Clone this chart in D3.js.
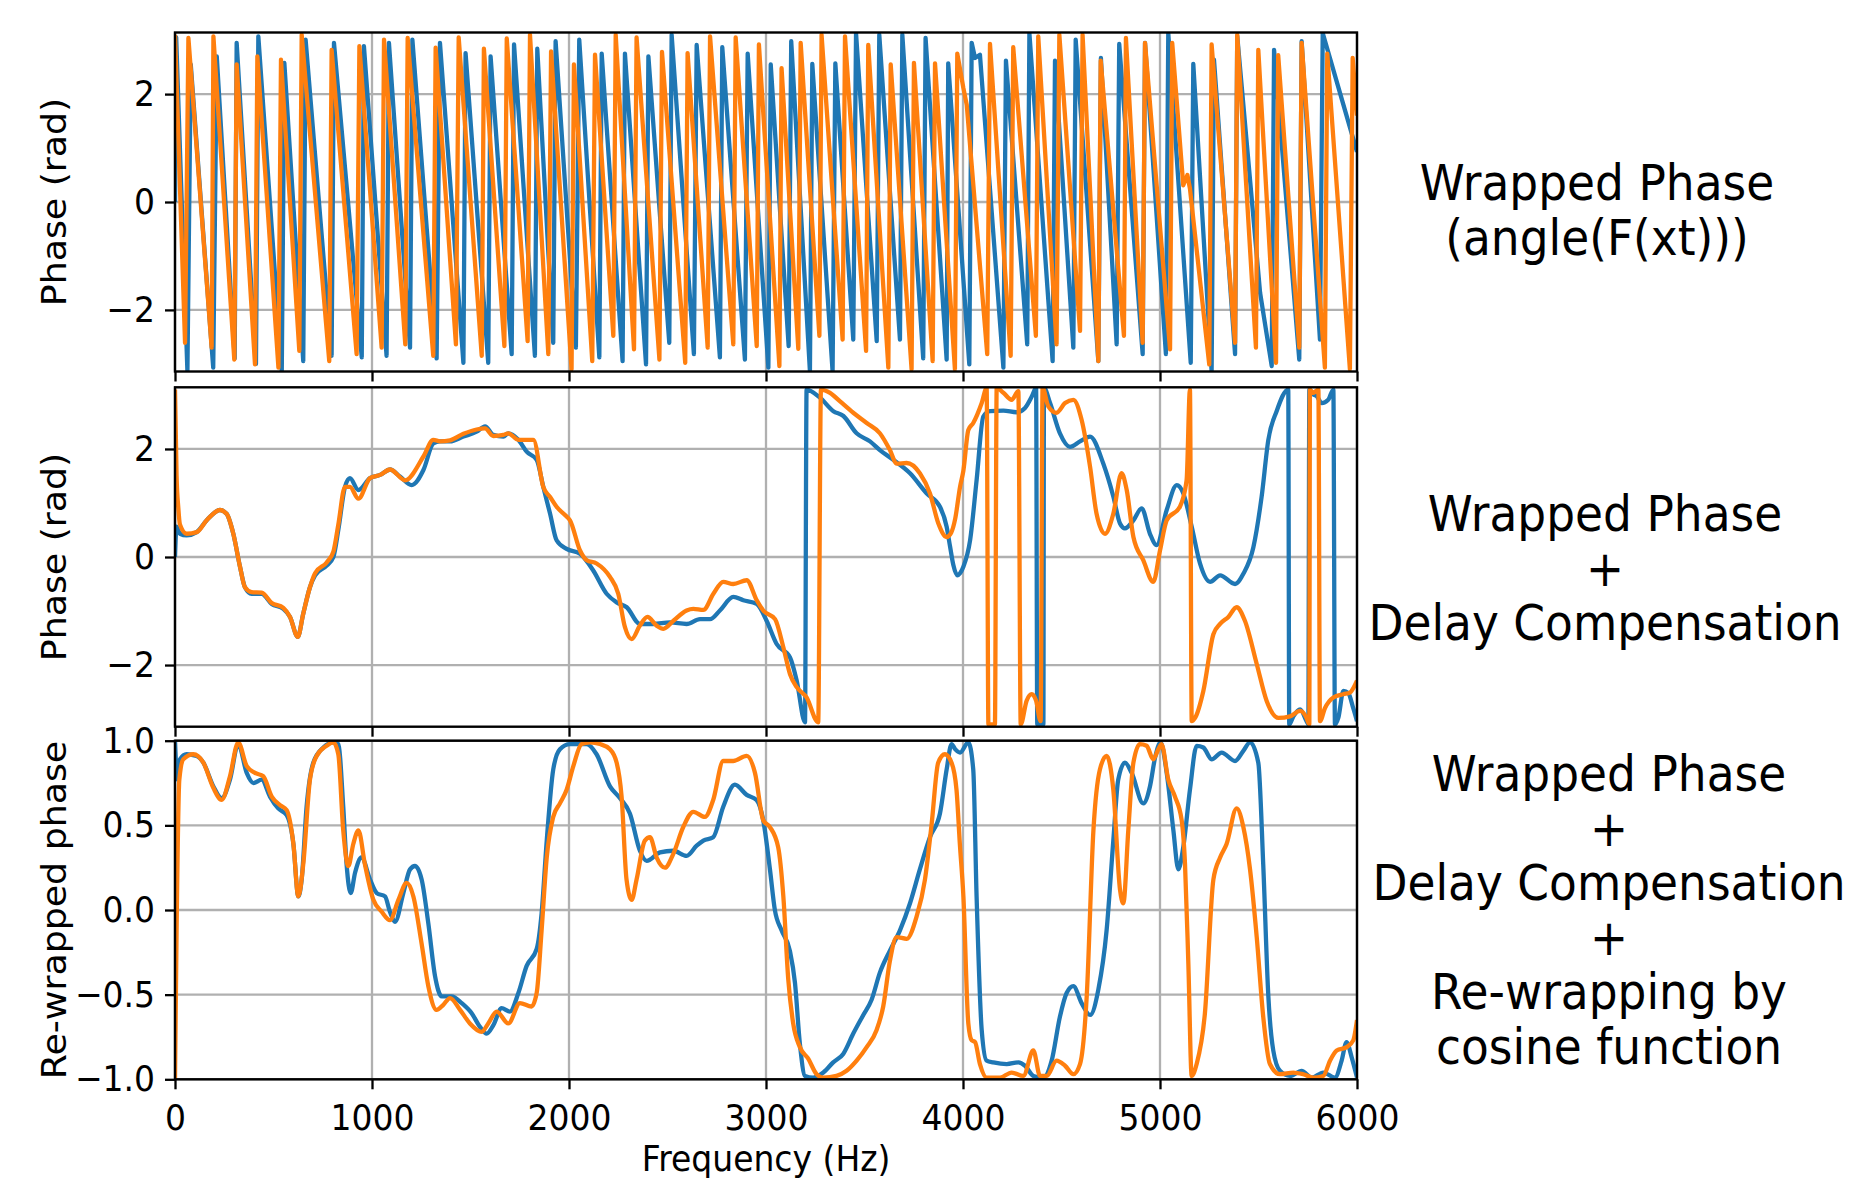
<!DOCTYPE html>
<html>
<head>
<meta charset="utf-8">
<script src="https://cdn.jsdelivr.net/npm/d3@7"></script>
<style>
  body { margin: 0; background: #fff; }
  svg { display: block; }
  text { font-family: "DejaVu Sans", sans-serif; fill: #000; }
</style>
</head>
<body>
<svg id="chart" width="1851" height="1179"></svg>
<script>
// ---------------- DATA ----------------
const xTicks = [0, 1000, 2000, 3000, 4000, 5000, 6000];
const phaseTicks = [-2, 0, 2];
const phaseTickLabels = ["\u22122", "0", "2"];
const cosTicks = [-1, -0.5, 0, 0.5, 1];
const cosTickLabels = ["\u22121.0", "\u22120.5", "0.0", "0.5", "1.0"];
const xLabel = "Frequency (Hz)";
const yLabels = ["Phase (rad)", "Phase (rad)", "Re-wrapped phase"];
const panelTitles = [
  ["Wrapped Phase", "(angle(F(xt)))"],
  ["Wrapped Phase", "+", "Delay Compensation"],
  ["Wrapped Phase", "+", "Delay Compensation", "+", "Re-wrapping by", "cosine function"]
];

// Panel 1: wrapped phase [frequency Hz, phase rad]
const wrappedBlue = [
 [0,0.0],[6,3.05],[63,-3.14],[80,2.55],[194,-3.07],[212,2.70],[303,-2.90],[313,2.95],
 [411,-3.00],[423,3.07],[542,-3.14],[555,2.58],[651,-2.95],[663,3.01],[795,-2.85],[807,2.95],
 [948,-2.88],[959,2.89],[1074,-2.85],[1086,2.95],[1193,-2.70],[1205,3.01],[1328,-2.90],[1345,2.95],
 [1464,-2.98],[1475,2.76],[1590,-2.98],[1602,2.70],[1709,-2.82],[1721,2.92],[1827,-2.85],[1839,2.84],
 [1920,-2.61],[1932,2.98],[2035,-2.70],[2052,3.01],[2154,-2.88],[2166,2.75],[2272,-2.95],[2284,2.75],
 [2391,-3.01],[2403,2.70],[2509,-2.61],[2521,3.10],[2634,-2.82],[2648,2.91],[2766,-2.88],[2778,2.87],
 [2893,-2.92],[2907,2.75],[3012,-3.07],[3024,2.55],[3115,-2.67],[3128,2.98],[3223,-3.14],[3235,2.56],
 [3338,-3.14],[3352,2.57],[3443,-2.55],[3457,3.13],[3562,-2.58],[3575,3.10],[3680,-2.55],[3692,3.10],
 [3798,-2.90],[3810,3.04],[3917,-2.92],[3925,2.57],[4032,-3.01],[4044,2.95],[4061,2.67],[4086,2.73],
 [4205,-3.07],[4218,2.62],[4326,-2.64],[4337,3.13],[4455,-2.95],[4467,2.62],[4560,-2.70],[4572,3.01],
 [4687,-2.95],[4700,2.67],[4780,-2.64],[4793,2.93],[4912,-2.82],[4924,2.95],[5030,-2.82],[5042,3.13],
 [5156,-2.98],[5169,2.56],[5262,-3.14],[5274,2.64],[5381,-2.82],[5392,3.08],[5508,-1.68],
 [5567,-3.04],[5579,2.82],[5707,-2.92],[5719,2.98],[5812,-2.55],[5826,3.13],[6000,0.93]
];
const wrappedOrange = [
 [0,3.10],[51,-2.61],[68,3.04],[186,-2.70],[195,3.07],[301,-2.92],[313,2.55],[406,-3.01],[418,2.70],
 [525,-3.07],[538,2.64],[631,-2.76],[643,3.10],[783,-2.95],[795,2.82],[922,-2.82],[936,2.89],
 [1049,-2.70],[1061,3.01],[1169,-2.64],[1181,3.04],[1311,-2.85],[1323,2.86],[1426,-2.64],[1440,3.05],
 [1557,-2.85],[1568,2.84],[1672,-2.67],[1684,3.03],[1790,-2.58],[1802,3.10],[1895,-2.82],[1909,2.79],
 [2013,-3.10],[2025,2.55],[2118,-2.95],[2132,2.73],[2225,-2.48],[2237,3.10],[2330,-2.73],[2343,3.05],
 [2459,-2.92],[2472,2.78],[2590,-2.98],[2602,2.76],[2704,-2.70],[2716,3.07],[2834,-2.64],[2846,3.05],
 [2953,-2.67],[2964,2.92],[3068,-3.04],[3079,2.48],[3164,-2.72],[3176,2.95],[3271,-2.48],[3282,3.10],
 [3389,-2.55],[3401,3.07],[3508,-2.76],[3519,2.91],[3621,-3.07],[3633,2.55],[3739,-3.10],[3751,2.58],
 [3846,-2.95],[3858,2.57],[3959,-3.10],[3971,2.75],[4002,2.11],[4019,1.80],[4123,-2.82],[4137,2.93],
 [4242,-2.85],[4255,2.87],[4370,-2.48],[4382,3.07],[4475,-2.64],[4489,3.10],[4594,-2.39],[4607,3.10],
 [4687,-2.95],[4699,2.62],[4817,-2.48],[4827,3.04],[4912,-2.61],[4924,2.95],[5051,-2.73],[5062,2.95],
 [5118,0.31],[5139,0.50],[5152,0.25],[5250,-3.01],[5262,2.92],[5381,-2.61],[5392,3.10],[5487,-2.70],
 [5499,2.82],[5589,-2.98],[5600,2.72],[5707,-2.70],[5719,2.95],[5837,-3.07],[5849,2.75],[5964,-3.10],
 [5978,2.67],[6000,1.60]
];

// Panel 2: wrapped phase + delay compensation
const compBlue = [
 [0,0.0],[8,0.56],[25,0.43],[59,0.40],[110,0.46],[161,0.68],[228,0.87],[262,0.80],[296,0.43],[330,-0.18],
 [355,-0.56],[389,-0.68],[440,-0.68],[491,-0.87],[550,-0.96],[584,-1.11],[623,-1.48],[651,-1.05],[685,-0.56],
 [711,-0.34],[770,-0.16],[804,0.0],[829,0.5],[863,1.3],[888,1.46],[931,1.24],[990,1.46],[1041,1.52],
 [1092,1.62],[1142,1.49],[1201,1.33],[1261,1.61],[1311,2.1],[1345,2.14],[1396,2.14],[1464,2.23],[1531,2.32],
 [1574,2.42],[1616,2.26],[1667,2.23],[1692,2.29],[1743,2.17],[1785,1.95],[1836,1.80],[1870,1.29],[1904,0.80],
 [1937,0.31],[1988,0.15],[2056,0.06],[2123,-0.25],[2191,-0.68],[2242,-0.84],[2293,-0.93],[2360,-1.24],
 [2428,-1.24],[2512,-1.21],[2597,-1.24],[2665,-1.15],[2716,-1.15],[2766,-0.99],[2834,-0.74],[2885,-0.80],
 [2953,-0.87],[3003,-1.18],[3054,-1.61],[3122,-1.86],[3156,-2.29],[3198,-3.06],[3206,3.10],[3274,2.95],
 [3342,2.70],[3393,2.61],[3460,2.29],[3528,2.14],[3578,1.98],[3646,1.80],[3731,1.55],[3815,1.18],[3883,0.93],
 [3917,0.56],[3934,0.20],[3951,-0.15],[3971,-0.34],[3985,-0.30],[4002,-0.18],[4036,0.31],[4069,1.42],
 [4103,2.60],[4137,2.70],[4205,2.71],[4272,2.68],[4315,2.76],[4349,2.97],[4371,3.13],[4377,-3.10],
 [4408,-3.10],[4411,3.13],[4442,2.85],[4492,2.29],[4543,2.04],[4594,2.14],[4645,2.23],[4712,1.73],
 [4763,1.12],[4797,0.62],[4822,0.53],[4865,0.68],[4907,0.90],[4949,0.43],[4983,0.22],[5034,0.87],
 [5085,1.33],[5118,1.18],[5161,0.56],[5203,-0.12],[5254,-0.46],[5305,-0.34],[5381,-0.50],[5423,-0.31],
 [5474,0.18],[5516,1.12],[5550,2.17],[5592,2.70],[5651,3.10],[5656,-3.10],[5677,-2.95],[5711,-2.82],
 [5744,-3.04],[5753,-3.10],[5758,3.10],[5778,3.01],[5795,2.98],[5821,2.85],[5854,2.91],[5880,3.10],
 [5888,-3.10],[5905,-2.98],[5931,-2.48],[5956,-2.52],[5981,-2.80],[6000,-3.04]
];
const compOrange = [
 [0,3.10],[8,1.5],[17,0.9],[25,0.6],[59,0.43],[110,0.46],[161,0.68],[228,0.87],[262,0.80],[296,0.43],
 [330,-0.18],[355,-0.56],[389,-0.65],[440,-0.66],[491,-0.85],[550,-0.94],[584,-1.11],[623,-1.48],[651,-1.05],
 [685,-0.56],[711,-0.30],[770,-0.10],[804,0.1],[829,0.6],[863,1.3],[888,1.30],[931,1.08],[990,1.46],
 [1041,1.52],[1092,1.62],[1168,1.42],[1261,1.86],[1311,2.17],[1345,2.14],[1396,2.16],[1464,2.28],
 [1531,2.36],[1574,2.38],[1616,2.24],[1667,2.26],[1692,2.29],[1743,2.17],[1785,2.17],[1819,2.17],
 [1870,1.29],[1904,1.11],[1937,0.93],[1988,0.75],[2005,0.68],[2056,0.12],[2090,-0.06],[2140,-0.12],
 [2208,-0.37],[2250,-0.68],[2284,-1.30],[2318,-1.52],[2360,-1.27],[2398,-1.11],[2445,-1.27],[2479,-1.33],
 [2530,-1.18],[2597,-0.99],[2631,-0.96],[2682,-0.98],[2733,-0.68],[2783,-0.46],[2834,-0.50],[2902,-0.43],
 [2953,-0.80],[2986,-0.99],[3046,-1.15],[3088,-1.67],[3122,-2.17],[3156,-2.41],[3206,-2.60],[3265,-3.06],
 [3279,3.10],[3325,3.04],[3376,2.88],[3443,2.67],[3511,2.48],[3578,2.29],[3629,1.98],[3663,1.73],
 [3714,1.74],[3781,1.55],[3832,1.18],[3875,0.62],[3917,0.37],[3940,0.45],[3960,0.70],[3985,1.30],
 [4002,1.60],[4027,2.35],[4052,2.48],[4095,2.85],[4120,3.13],[4129,-3.10],[4162,-3.10],[4171,3.13],
 [4205,3.04],[4247,2.91],[4281,3.07],[4293,-3.10],[4323,-2.66],[4349,-2.54],[4371,-2.66],[4394,-3.04],
 [4404,3.13],[4433,2.79],[4475,2.67],[4518,2.85],[4560,2.91],[4602,2.54],[4645,1.67],[4678,0.80],
 [4721,0.43],[4763,0.80],[4805,1.55],[4831,1.24],[4865,0.37],[4915,-0.06],[4966,-0.46],[5000,0.12],
 [5034,0.68],[5101,0.93],[5135,1.42],[5152,3.10],[5161,-3.04],[5178,-2.98],[5220,-2.48],[5271,-1.43],
 [5305,-1.24],[5347,-1.11],[5389,-0.93],[5431,-1.18],[5491,-1.98],[5541,-2.66],[5601,-2.98],[5660,-2.95],
 [5711,-2.85],[5744,-2.98],[5758,-3.10],[5761,3.10],[5778,3.04],[5804,3.10],[5812,-3.04],[5837,-2.80],
 [5880,-2.60],[5931,-2.54],[5964,-2.51],[6000,-2.29]
];

// Panel 3: re-wrapped phase (cosine)
const cosBlue = [
 [0,1.0],[12,0.77],[25,0.89],[59,0.92],[110,0.91],[144,0.87],[195,0.73],[237,0.66],[279,0.77],[321,0.98],
 [364,0.81],[398,0.75],[440,0.77],[482,0.67],[524,0.60],[567,0.56],[601,0.39],[626,0.08],[643,0.18],
 [668,0.61],[702,0.87],[753,0.96],[804,0.99],[829,0.98],[854,0.61],[871,0.27],[892,0.10],[914,0.22],
 [947,0.31],[990,0.18],[1024,0.10],[1066,0.08],[1091,-0.01],[1117,-0.07],[1159,0.10],[1193,0.24],
 [1218,0.26],[1252,0.18],[1286,-0.08],[1320,-0.39],[1354,-0.51],[1404,-0.51],[1455,-0.55],[1506,-0.61],
 [1548,-0.69],[1582,-0.73],[1616,-0.68],[1658,-0.58],[1700,-0.60],[1743,-0.49],[1785,-0.33],[1836,-0.23],
 [1861,-0.02],[1887,0.41],[1920,0.83],[1954,0.95],[2005,0.98],[2089,0.98],[2140,0.92],[2208,0.73],
 [2259,0.66],[2309,0.57],[2360,0.35],[2394,0.29],[2462,0.34],[2529,0.35],[2597,0.32],[2648,0.38],
 [2682,0.41],[2732,0.43],[2783,0.61],[2842,0.74],[2902,0.68],[2952,0.65],[2986,0.53],[3020,0.24],
 [3045,0.0],[3079,-0.12],[3121,-0.24],[3147,-0.43],[3172,-0.79],[3198,-0.98],[3240,-0.99],[3291,-0.96],
 [3341,-0.90],[3392,-0.85],[3443,-0.73],[3494,-0.62],[3536,-0.53],[3578,-0.37],[3629,-0.24],[3680,-0.12],
 [3731,0.04],[3781,0.24],[3832,0.43],[3883,0.57],[3917,0.83],[3942,0.98],[3960,0.95],[3985,0.93],
 [4027,0.99],[4052,0.83],[4069,0.08],[4095,-0.71],[4120,-0.89],[4154,-0.90],[4222,-0.91],[4281,-0.90],
 [4315,-0.92],[4357,-0.98],[4408,-0.99],[4450,-0.89],[4492,-0.63],[4526,-0.49],[4560,-0.45],[4602,-0.55],
 [4645,-0.62],[4687,-0.47],[4729,-0.12],[4763,0.41],[4788,0.77],[4822,0.87],[4856,0.81],[4915,0.63],
 [4949,0.73],[4975,0.90],[5003,0.99],[5034,0.81],[5068,0.47],[5093,0.24],[5118,0.37],[5152,0.71],
 [5186,0.97],[5220,0.96],[5262,0.89],[5313,0.93],[5381,0.88],[5423,0.94],[5457,0.99],[5499,0.87],
 [5524,0.27],[5550,-0.51],[5575,-0.83],[5609,-0.95],[5660,-0.98],[5719,-0.95],[5770,-0.99],[5829,-0.96],
 [5888,-0.99],[5922,-0.89],[5947,-0.78],[5973,-0.87],[6000,-0.99]
];
const cosOrange = [
 [0,-1.0],[8,-0.12],[22,0.77],[42,0.89],[93,0.92],[144,0.87],[195,0.72],[237,0.65],[279,0.79],[321,0.99],
 [364,0.85],[406,0.81],[448,0.79],[491,0.67],[533,0.62],[567,0.59],[601,0.39],[626,0.08],[651,0.27],
 [685,0.77],[719,0.91],[770,0.97],[804,0.99],[829,0.92],[854,0.47],[880,0.26],[905,0.39],[931,0.47],
 [964,0.27],[1007,0.06],[1049,-0.01],[1091,-0.06],[1134,0.06],[1176,0.16],[1210,0.08],[1252,-0.20],
 [1286,-0.45],[1328,-0.59],[1362,-0.56],[1396,-0.52],[1447,-0.59],[1497,-0.67],[1557,-0.72],[1590,-0.67],
 [1633,-0.60],[1692,-0.67],[1751,-0.55],[1810,-0.57],[1836,-0.49],[1861,-0.12],[1887,0.31],[1920,0.55],
 [1954,0.63],[1988,0.71],[2022,0.85],[2064,0.98],[2106,0.99],[2157,0.98],[2208,0.95],[2242,0.87],
 [2267,0.67],[2292,0.18],[2318,0.06],[2343,0.18],[2385,0.41],[2411,0.43],[2445,0.31],[2487,0.25],
 [2529,0.33],[2580,0.49],[2631,0.58],[2690,0.55],[2732,0.65],[2783,0.88],[2834,0.88],[2902,0.91],
 [2944,0.81],[2986,0.53],[3020,0.49],[3062,0.37],[3088,0.08],[3113,-0.41],[3138,-0.67],[3172,-0.81],
 [3215,-0.88],[3257,-0.97],[3291,-0.99],[3358,-0.98],[3409,-0.95],[3460,-0.89],[3511,-0.81],[3561,-0.71],
 [3595,-0.57],[3629,-0.30],[3663,-0.16],[3714,-0.17],[3764,-0.04],[3807,0.18],[3841,0.51],[3874,0.87],
 [3908,0.92],[3942,0.87],[3967,0.71],[3984,0.39],[4002,0.08],[4027,-0.67],[4044,-0.77],[4061,-0.78],
 [4086,-0.91],[4120,-0.99],[4188,-0.99],[4247,-0.96],[4306,-0.98],[4357,-0.83],[4391,-0.98],[4425,-0.98],
 [4475,-0.89],[4518,-0.92],[4560,-0.97],[4594,-0.91],[4628,-0.51],[4662,0.47],[4695,0.83],[4729,0.91],
 [4763,0.71],[4797,0.12],[4814,0.04],[4839,0.47],[4865,0.87],[4898,0.98],[4932,0.97],[4966,0.89],
 [4992,0.95],[5008,0.98],[5042,0.77],[5076,0.67],[5110,0.53],[5127,0.27],[5144,-0.32],[5161,-0.98],
 [5186,-0.91],[5228,-0.61],[5271,0.18],[5305,0.31],[5338,0.39],[5389,0.60],[5423,0.49],[5457,0.24],
 [5491,-0.16],[5524,-0.63],[5558,-0.91],[5609,-0.97],[5677,-0.96],[5727,-0.97],[5778,-0.99],[5829,-0.98],
 [5863,-0.89],[5897,-0.83],[5947,-0.81],[5981,-0.77],[6000,-0.65]
];

// ---------------- DRAWING ----------------
const svg = d3.select("#chart");
const BLUE = "#1f77b4", ORANGE = "#ff7f0e";
const TXT_STRETCH = "scale(1,1.1)";
const x = d3.scaleLinear().domain([0, 6000]).range([175, 1357]);

const panels = [
  { top: 32.5, bottom: 371.5, domain: [-Math.PI, Math.PI], ticks: phaseTicks, labels: phaseTickLabels,
    series: [wrappedBlue, wrappedOrange], curve: d3.curveLinear, titleX: 1597, titleY: 200 },
  { top: 387.3, bottom: 726.7, domain: [-Math.PI, Math.PI], ticks: phaseTicks, labels: phaseTickLabels,
    series: [compBlue, compOrange], curve: d3.curveMonotoneX, titleX: 1605, titleY: 531 },
  { top: 740.7, bottom: 1079.3, domain: [-1, 1], ticks: cosTicks, labels: cosTickLabels,
    series: [cosBlue, cosOrange], curve: d3.curveMonotoneX, titleX: 1609, titleY: 791 }
];
const LINE_STEP = 54.6;

panels.forEach((p, i) => {
  const y = d3.scaleLinear().domain(p.domain).range([p.bottom, p.top]);
  const g = svg.append("g");

  // clip
  const clipId = "clip" + i;
  svg.append("clipPath").attr("id", clipId).append("rect")
    .attr("x", x.range()[0]).attr("y", p.top)
    .attr("width", x.range()[1] - x.range()[0]).attr("height", p.bottom - p.top);

  // grid
  g.append("g").selectAll("line").data(xTicks).join("line")
    .attr("x1", d => x(d)).attr("x2", d => x(d)).attr("y1", p.top).attr("y2", p.bottom)
    .attr("stroke", "#b0b0b0").attr("stroke-width", 2.3);
  g.append("g").selectAll("line").data(p.ticks).join("line")
    .attr("x1", x.range()[0]).attr("x2", x.range()[1]).attr("y1", d => y(d)).attr("y2", d => y(d))
    .attr("stroke", "#b0b0b0").attr("stroke-width", 2.3);

  // lines
  const line = d3.line().x(d => x(d[0])).y(d => y(d[1])).curve(p.curve);
  const lg = g.append("g").attr("clip-path", `url(#${clipId})`);
  const colors = [BLUE, ORANGE];
  p.series.forEach((s, k) => {
    lg.append("path").attr("d", line(s)).attr("fill", "none")
      .attr("stroke", colors[k]).attr("stroke-width", 4.3)
      .attr("stroke-linejoin", "round").attr("stroke-linecap", "butt");
  });

  // y axis
  const yAxis = d3.axisLeft(y).tickValues(p.ticks).tickSize(10).tickPadding(10)
    .tickFormat((d, j) => p.labels[j]);
  const ya = g.append("g").attr("transform", `translate(${x.range()[0]},0)`).call(yAxis);
  ya.select(".domain").remove();
  ya.selectAll(".tick line").attr("stroke", "#000").attr("stroke-width", 2.3);
  ya.selectAll(".tick text").attr("font-size", 33).attr("font-family", "DejaVu Sans")
    .attr("fill", "#000").attr("transform", TXT_STRETCH);

  // x axis (ticks on every panel, labels only on the bottom one)
  const xAxis = d3.axisBottom(x).tickValues(xTicks).tickSize(10)
    .tickFormat(i === 2 ? d3.format("d") : () => "");
  const xa = g.append("g").attr("transform", `translate(0,${p.bottom})`).call(xAxis);
  xa.select(".domain").remove();
  xa.selectAll(".tick line").attr("stroke", "#000").attr("stroke-width", 2.3);
  xa.selectAll(".tick text").attr("font-size", 33).attr("font-family", "DejaVu Sans")
    .attr("fill", "#000").attr("y", 45.9).attr("dy", 0).attr("transform", TXT_STRETCH);

  // spines
  g.append("rect").attr("x", x.range()[0]).attr("y", p.top)
    .attr("width", x.range()[1] - x.range()[0]).attr("height", p.bottom - p.top)
    .attr("fill", "none").attr("stroke", "#000").attr("stroke-width", 2.4);

  // y label
  g.append("text").text(yLabels[i])
    .attr("transform", `translate(55,${(p.top + p.bottom) / 2}) ${TXT_STRETCH} rotate(-90)`)
    .attr("text-anchor", "middle").attr("dominant-baseline", "central")
    .attr("font-size", 33);

  // right-side description
  panelTitles[i].forEach((t, j) => {
    g.append("text").text(t)
      .attr("transform", `translate(${p.titleX},${p.titleY + j * LINE_STEP}) ${TXT_STRETCH}`)
      .attr("text-anchor", "middle").attr("font-size", 45.5);
  });
});

// x label
svg.append("text").text(xLabel)
  .attr("transform", `translate(${(x.range()[0] + x.range()[1]) / 2},1171) ${TXT_STRETCH}`)
  .attr("text-anchor", "middle").attr("font-size", 33);
</script>
</body>
</html>
